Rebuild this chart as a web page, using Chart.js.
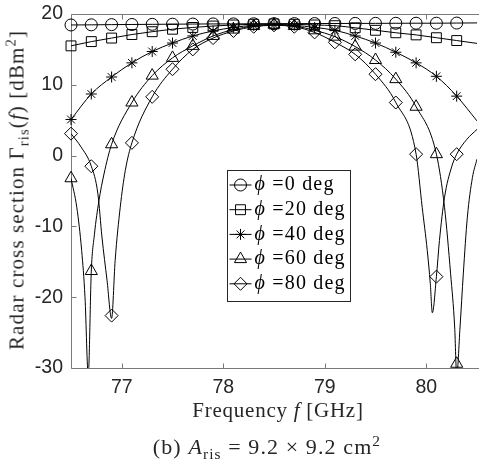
<!DOCTYPE html>
<html>
<head>
<meta charset="utf-8">
<script src="https://cdn.jsdelivr.net/npm/chart.js@4.4.0/dist/chart.umd.min.js"></script>
<style>
body { margin: 0; background: #fff; }
#wrap { position: relative; width: 485px; height: 459px; overflow: hidden; }
#myChart { position: absolute; left: 0; top: 0; }
.t { position: absolute; font-family: "Liberation Serif", "DejaVu Serif", serif; color: #262626; white-space: nowrap; line-height: 1; transform: translate(-50%, -50%); }
.t sub, .t sup { font-size: 70%; line-height: 0; }
#ytitle { left: 17px; top: 190px; font-size: 21px; letter-spacing: 1.1px; transform: translate(-50%, -50%) rotate(-90deg); }
#xtitle { left: 278px; top: 410px; font-size: 21px; letter-spacing: 0.75px; }
#caption { left: 267px; top: 447px; font-size: 22px; letter-spacing: 1.1px; }
</style>
</head>
<body>
<div id="wrap">
  <canvas id="myChart" width="485" height="459"></canvas>
  <div class="t" id="ytitle">Radar cross section Γ<sub>ris</sub>(<i>f</i>) [dBm<sup>2</sup>]</div>
  <div class="t" id="xtitle">Frequency <i>f</i> [GHz]</div>
  <div class="t" id="caption">(b) <i>A</i><sub>ris</sub> = 9.2 × 9.2 cm<sup>2</sup></div>
</div>
<script>
// marker positions (GHz)
const markFreq = [76.5, 76.7, 76.9, 77.1, 77.3, 77.5, 77.7, 77.9, 78.1, 78.3, 78.5, 78.7, 78.9, 79.1, 79.3, 79.5, 79.7, 79.9, 80.1, 80.3];

// smooth curves, sampled at the markers plus the right end
const smoothFreq = [76.5, 76.7, 76.9, 77.1, 77.3, 77.5, 77.7, 77.9, 78.1, 78.3, 78.5, 78.7, 78.9, 79.1, 79.3, 79.5, 79.7, 79.9, 80.1, 80.3, 80.5];
const phi0Curve = [18.45, 18.47, 18.5, 18.52, 18.54, 18.56, 18.58, 18.6, 18.6, 18.62, 18.63, 18.64, 18.65, 18.66, 18.67, 18.68, 18.69, 18.7, 18.7, 18.72, 18.74];
const phi20Curve = [15.5, 16.1, 16.6, 17.1, 17.5, 17.85, 18.1, 18.3, 18.45, 18.55, 18.6, 18.55, 18.45, 18.35, 18.05, 17.7, 17.35, 17.05, 16.65, 16.25, 15.85];
const phi40Curve = [5.1, 8.7, 11.1, 13.1, 14.7, 15.9, 16.9, 17.6, 18.1, 18.4, 18.5, 18.4, 18.1, 17.7, 16.9, 15.9, 14.6, 13.1, 11.2, 8.4, 4.9];

// phi = 60 deg, denser near the nulls
const phi60Freq = [76.5, 76.557, 76.605, 76.638, 76.67, 76.7, 76.731, 76.775, 76.825, 76.9, 77.1, 77.3, 77.5, 77.7, 77.9, 78.1, 78.3, 78.5, 78.7, 78.9, 79.1, 79.3, 79.5, 79.7, 79.9, 80.1, 80.18, 80.24, 80.28, 80.3, 80.333, 80.365, 80.405, 80.455, 80.5];
const phi60Curve = [-3.2, -7.3, -13.4, -20, -31, -16.3, -11.1, -6.4, -2.6, 1.6, 7.5, 11.3, 13.8, 15.5, 16.9, 17.8, 18.3, 18.5, 18.3, 17.7, 16.8, 15.4, 13.5, 10.8, 6.9, 0.2, -7.3, -16.7, -24.2, -31, -24.2, -16.7, -8.7, -3.1, -0.5];
const phi60Marks = [-3.2, -16.3, 1.6, 7.5, 11.3, 13.8, 15.5, 16.9, 17.8, 18.3, 18.5, 18.3, 17.7, 16.8, 15.4, 13.5, 10.8, 6.9, 0.2, -29.4];

// phi = 80 deg
const phi80Freq = [76.5, 76.6, 76.7, 76.765, 76.805, 76.855, 76.9, 76.935, 76.985, 77.035, 77.1, 77.3, 77.5, 77.7, 77.9, 78.1, 78.3, 78.5, 78.7, 78.9, 79.1, 79.3, 79.5, 79.7, 79.9, 79.96, 80.01, 80.04, 80.06, 80.1, 80.13, 80.18, 80.25, 80.3, 80.4, 80.5];
const phi80Curve = [3.1, 1.2, -1.5, -5.4, -11.5, -17.6, -23, -14.8, -7.3, -2.1, 1.8, 8.3, 12.2, 15.0, 16.6, 17.6, 18.2, 18.4, 18.2, 17.4, 16.0, 14.3, 11.5, 7.5, 0.2, -7.3, -13.4, -18.1, -22.2, -17.1, -12, -5.9, -1.6, 0.2, 2.3, 3.7];
const phi80Marks = [3.1, -1.5, -22.6, 1.8, 8.3, 12.2, 15.0, 16.6, 17.6, 18.2, 18.4, 18.2, 17.4, 16.0, 14.3, 11.5, 7.5, 0.2, -17.1, 0.2];

const xTicks = [77, 78, 79, 80];
const yTicks = [-30, -20, -10, 0, 10, 20];
const legendLabels = ['=0 deg', '=20 deg', '=40 deg', '=60 deg', '=80 deg'];
const markerStyles = ['circle', 'rect', 'star', 'triangle', 'rectRot'];
const markerSizes = [6, 7, 5.5, 7, 6.5];

const pts = (fs, vs) => fs.map((f, i) => ({ x: f, y: vs[i] }));

const curves = [
    pts(smoothFreq, phi0Curve),
    pts(smoothFreq, phi20Curve),
    pts(smoothFreq, phi40Curve),
    pts(phi60Freq, phi60Curve),
    pts(phi80Freq, phi80Curve)
];
const marks = [
    pts(markFreq, phi0Curve.slice(0, markFreq.length)),
    pts(markFreq, phi20Curve.slice(0, markFreq.length)),
    pts(markFreq, phi40Curve.slice(0, markFreq.length)),
    pts(markFreq, phi60Marks),
    pts(markFreq, phi80Marks)
];

const datasets = [];
curves.forEach(c => datasets.push({
    data: c,
    showLine: true,
    borderColor: '#000',
    borderWidth: 1,
    pointRadius: 0,
    cubicInterpolationMode: 'monotone'
}));
marks.forEach((m, i) => datasets.push({
    data: m,
    showLine: false,
    pointStyle: markerStyles[i],
    pointRadius: markerSizes[i],
    pointBorderColor: '#000',
    pointBackgroundColor: 'rgba(0,0,0,0)',
    pointBorderWidth: 1,
    clip: false
}));

// box and inward ticks
const axisBox = {
    id: 'axisBox',
    beforeDatasetsDraw(chart) {
        const { ctx, chartArea: a, scales } = chart;
        const L = Math.round(a.left) + 0.5, T = Math.round(a.top) + 0.5, B = Math.round(a.bottom) + 0.5;
        ctx.save();
        ctx.strokeStyle = '#7a7a7a';
        ctx.lineWidth = 1;
        ctx.beginPath();
        ctx.moveTo(a.right + 2, T); ctx.lineTo(L, T); ctx.lineTo(L, B); ctx.lineTo(a.right + 2, B);
        xTicks.forEach(v => {
            const px = Math.round(scales.x.getPixelForValue(v)) + 0.5;
            ctx.moveTo(px, B); ctx.lineTo(px, B - 5);
            ctx.moveTo(px, T); ctx.lineTo(px, T + 5);
        });
        yTicks.forEach(v => {
            const py = Math.round(scales.y.getPixelForValue(v)) + 0.5;
            ctx.moveTo(L, py); ctx.lineTo(L + 5, py);
        });
        ctx.stroke();
        ctx.restore();
    }
};

const boxLegend = {
    id: 'boxLegend',
    afterDraw(chart) {
        const { ctx, chartArea: a } = chart;
        const x0 = a.left + 156.5, y0 = a.top + 156.5, w = 123, h = 131;
        ctx.save();
        ctx.fillStyle = '#fff';
        ctx.fillRect(x0, y0, w, h);
        ctx.strokeStyle = '#262626';
        ctx.lineWidth = 1;
        ctx.strokeRect(x0, y0, w, h);
        legendLabels.forEach((lab, i) => {
            const y = y0 + 14.5 + i * 24.7;
            ctx.strokeStyle = '#000';
            ctx.beginPath();
            ctx.moveTo(x0 + 2, y); ctx.lineTo(x0 + 24, y);
            ctx.stroke();
            ctx.fillStyle = 'rgba(0,0,0,0)';
            Chart.helpers.drawPoint(ctx, { pointStyle: markerStyles[i], radius: markerSizes[i], borderWidth: 1, rotation: 0 }, x0 + 13, y);
            ctx.fillStyle = '#000';
            ctx.textBaseline = 'middle';
            ctx.letterSpacing = '1.2px';
            ctx.font = 'italic 20px "Liberation Serif", "DejaVu Serif", serif';
            ctx.fillText('ϕ', x0 + 27, y);
            const pw = ctx.measureText('ϕ ').width;
            ctx.font = '20px "Liberation Serif", "DejaVu Serif", serif';
            ctx.fillText(lab, x0 + 27 + pw, y);
        });
        ctx.restore();
    }
};

const config = {
    type: 'scatter',
    data: { datasets: datasets },
    options: {
        responsive: false,
        animation: false,
        events: [],
        devicePixelRatio: 1,
        layout: { padding: { top: 14, left: 0, right: 0, bottom: 0 } },
        scales: {
            x: {
                min: 76.5,
                max: 80.5,
                afterBuildTicks: s => { s.ticks = xTicks.map(v => ({ value: v })); },
                afterFit: s => { s.height = 91; },
                grid: { display: false },
                border: { display: false },
                ticks: { color: '#262626', padding: 0, font: { family: 'Liberation Sans', size: 19.5 } }
            },
            y: {
                min: -30,
                max: 20,
                afterBuildTicks: s => { s.ticks = yTicks.map(v => ({ value: v })); },
                afterFit: s => { s.width = 71; },
                grid: { display: false },
                border: { display: false },
                ticks: { color: '#262626', padding: 0, font: { family: 'Liberation Sans', size: 19.5 } }
            }
        },
        plugins: {
            legend: { display: false },
            tooltip: { enabled: false }
        }
    },
    plugins: [axisBox, boxLegend]
};

const myChart = new Chart(document.getElementById('myChart'), config);
</script>
</body>
</html>
